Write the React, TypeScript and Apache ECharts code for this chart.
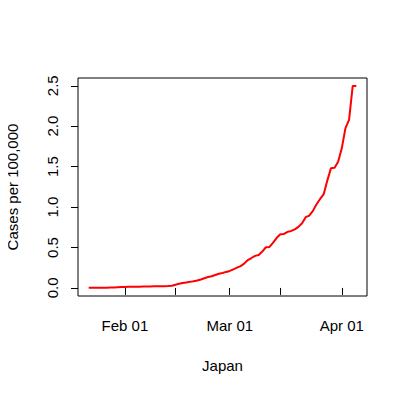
import React, { useEffect, useRef } from "react";
import * as echarts from "echarts";

const startDate = "2020-01-22";
const casesPer100k = [
  0.001, 0.001, 0.002, 0.002, 0.003, 0.003, 0.005, 0.006, 0.009, 0.011,
  0.012, 0.014, 0.016, 0.016, 0.016, 0.017, 0.018, 0.019, 0.020, 0.020,
  0.021, 0.022, 0.023, 0.027, 0.040, 0.052, 0.060, 0.068, 0.075, 0.083,
  0.092, 0.105, 0.120, 0.135, 0.145, 0.160, 0.175, 0.185, 0.198, 0.210,
  0.230, 0.250, 0.270, 0.300, 0.345, 0.370, 0.396, 0.408, 0.450, 0.503,
  0.507, 0.560, 0.620, 0.664, 0.668, 0.693, 0.705, 0.725, 0.755, 0.800,
  0.875, 0.895, 0.953, 1.035, 1.100, 1.160, 1.330, 1.481, 1.485, 1.564,
  1.729, 1.976, 2.079, 2.496, 2.496,
];
const xTickDates = ["2020-02-01", "2020-02-15", "2020-03-01", "2020-03-15", "2020-04-01"];
const xLabelDates = ["2020-02-01", "2020-03-01", "2020-04-01"];
const yTicks = [0, 0.5, 1.0, 1.5, 2.0, 2.5];
const monthNames = ["Jan", "Feb", "Mar", "Apr", "May", "Jun", "Jul", "Aug", "Sep", "Oct", "Nov", "Dec"];

const DAY = 86400000;
const toMs = (s: string) => Date.parse(s + "T00:00:00Z");

export default function App() {
  const ref = useRef<HTMLDivElement>(null);
  useEffect(() => {
    if (!ref.current) return;
    const chart = echarts.init(ref.current, null, { renderer: "svg" });
    const t0 = toMs(startDate);
    const data = casesPer100k.map((v, i) => [t0 + i * DAY, v]);
    const tFirst = t0;
    const tLast = t0 + (casesPer100k.length - 1) * DAY;
    const xPad = (tLast - tFirst) * 0.04;
    const yMaxData = Math.max(...casesPer100k);
    const yMinData = Math.min(0, ...casesPer100k);
    const yPad = (yMaxData - yMinData) * 0.04;
    const font = "Liberation Sans, Arial, Helvetica, sans-serif";
    chart.setOption({
      animation: false,
      grid: {
        left: 78,
        top: 78,
        right: 40,
        bottom: 98,
        containLabel: false,
        outerBoundsMode: "none",
        show: true,
        borderColor: "#000",
        borderWidth: 1,
        backgroundColor: "transparent",
      },
      xAxis: {
        type: "value",
        min: tFirst - xPad,
        max: tLast + xPad,
        axisLine: { show: false },
        splitLine: { show: false },
        axisTick: {
          show: true,
          length: 7,
          inside: false,
          customValues: xTickDates.map(toMs),
          lineStyle: { color: "#000", width: 1 },
        },
        axisLabel: {
          customValues: xLabelDates.map(toMs),
          formatter: (v: number) => {
            const d = new Date(v);
            return monthNames[d.getUTCMonth()] + " " + String(d.getUTCDate()).padStart(2, "0");
          },
          color: "#000",
          fontSize: 15,
          fontFamily: font,
          margin: 22,
          hideOverlap: false,
        },
        name: "Japan",
        nameLocation: "middle",
        nameGap: 62,
        nameMoveOverlap: false,
        nameTextStyle: { color: "#000", fontSize: 15, fontFamily: font },
      },
      yAxis: {
        type: "value",
        min: yMinData - yPad,
        max: yMaxData + yPad,
        axisLine: { show: false },
        splitLine: { show: false },
        axisTick: {
          show: true,
          length: 7,
          inside: false,
          customValues: yTicks,
          lineStyle: { color: "#000", width: 1 },
        },
        axisLabel: {
          customValues: yTicks,
          formatter: (v: number) => v.toFixed(1),
          rotate: 90,
          color: "#000",
          fontSize: 15,
          fontFamily: font,
          margin: 18,
        },
        name: "Cases per 100,000",
        nameLocation: "middle",
        nameGap: 58,
        nameMoveOverlap: false,
        nameRotate: 90,
        nameTextStyle: { color: "#000", fontSize: 15, fontFamily: font },
      },
      series: [
        {
          type: "line",
          data,
          showSymbol: false,
          symbol: "none",
          lineStyle: { color: "#ff0000", width: 2 },
        },
      ],
    });
    return () => chart.dispose();
  }, []);
  return <div ref={ref} style={{ width: 407, height: 394, margin: -8 }} />;
}
